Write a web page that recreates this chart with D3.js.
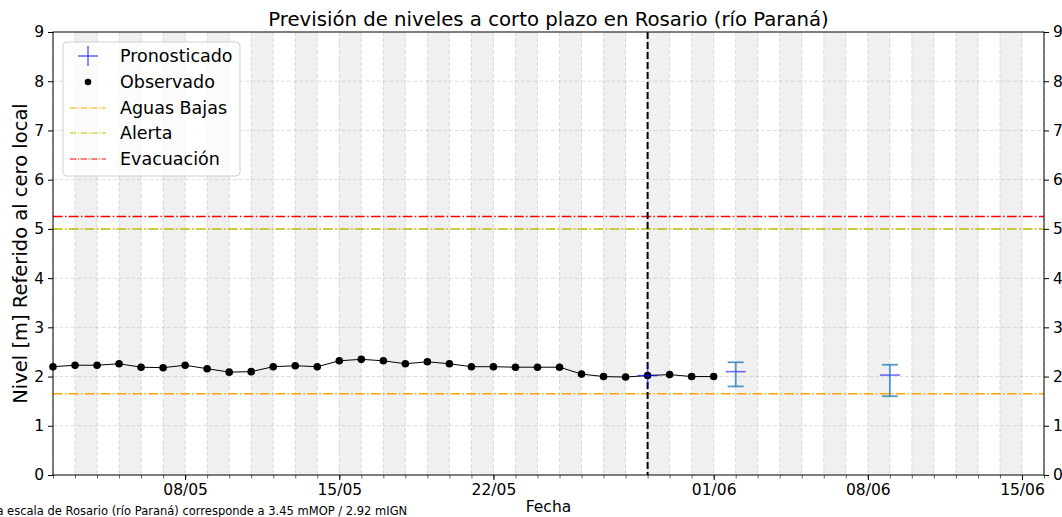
<!DOCTYPE html>
<html><head><meta charset="utf-8">
<script src="https://cdn.jsdelivr.net/npm/d3@7"></script>
<style>body{margin:0;background:#fff}svg{display:block;font-family:"DejaVu Sans",sans-serif}</style>
</head><body><svg id="c" width="1062" height="517"></svg>
<script>
// ---- data ----
const obsDates = ["2024-05-02","2024-05-03","2024-05-04","2024-05-05","2024-05-06","2024-05-07","2024-05-08","2024-05-09","2024-05-10","2024-05-11","2024-05-12","2024-05-13","2024-05-14","2024-05-15","2024-05-16","2024-05-17","2024-05-18","2024-05-19","2024-05-20","2024-05-21","2024-05-22","2024-05-23","2024-05-24","2024-05-25","2024-05-26","2024-05-27","2024-05-28","2024-05-29","2024-05-30","2024-05-31","2024-06-01"];
const obsValues = [2.20,2.23,2.23,2.26,2.19,2.18,2.23,2.16,2.09,2.10,2.20,2.22,2.20,2.32,2.35,2.32,2.26,2.30,2.26,2.20,2.20,2.19,2.19,2.19,2.05,2.00,1.99,2.02,2.04,2.00,2.00];
const fcDates = ["2024-05-29","2024-06-02","2024-06-09"];
const fcValues = [2.02,2.10,2.03];
const fcLow = [2.02,1.80,1.60];
const fcHigh = [2.02,2.29,2.24];
const thresholds = [
  {name:"Aguas Bajas", value:1.65, color:"#ffa500"},
  {name:"Alerta", value:5.0, color:"#bfbf00"},
  {name:"Evacuación", value:5.25, color:"#ff0000"}
];
const yTicks = [0,1,2,3,4,5,6,7,8,9];
const xTickLabels = ["08/05","15/05","22/05","01/06","08/06","15/06"];
const xTickDates = ["2024-05-08","2024-05-15","2024-05-22","2024-06-01","2024-06-08","2024-06-15"];
const nowDate = "2024-05-29";
const domainStart = "2024-05-02", domainEnd = "2024-06-16";
const title = "Previsión de niveles a corto plazo en Rosario (río Paraná)";
const yLabel = "Nivel [m] Referido al cero local";
const xLabel = "Fecha";
const note = "La escala de Rosario (río Paraná) corresponde a 3.45 mMOP / 2.92 mIGN";

// ---- chart ----
const W=1062,H=517, m={l:53,r:18,t:32,b:42};
const svg=d3.select("#c");
const P=d=>d3.utcParse("%Y-%m-%d")(d);
const x=d3.scaleUtc().domain([P(domainStart),P(domainEnd)]).range([m.l,W-m.r]);
const y=d3.scaleLinear().domain([0,9]).range([H-m.b,m.t]);
const days=d3.utcDay.range(P(domainStart),d3.utcDay.offset(P(domainEnd),1));

// shaded alternating days
const shade=svg.append("g");
days.forEach((d,i)=>{ if(i%2===1 && d<P(domainEnd)){
  shade.append("rect").attr("x",x(d)).attr("y",m.t).attr("width",x(d3.utcDay.offset(d,1))-x(d)).attr("height",H-m.b-m.t).attr("fill","#f0f0f0");
}});
// grid
const grid=svg.append("g").attr("stroke","#b0b0b0").attr("stroke-opacity",0.5).attr("stroke-dasharray","4,2").attr("stroke-width",0.8);
days.forEach(d=>grid.append("line").attr("x1",x(d)).attr("x2",x(d)).attr("y1",m.t).attr("y2",H-m.b));
yTicks.slice(1,-1).forEach(v=>grid.append("line").attr("x1",m.l).attr("x2",W-m.r).attr("y1",y(v)).attr("y2",y(v)));

// thresholds
thresholds.forEach(t=>svg.append("line").attr("x1",m.l).attr("x2",W-m.r).attr("y1",y(t.value)).attr("y2",y(t.value))
  .attr("stroke",t.color).attr("stroke-width",1.5).attr("stroke-dasharray","9.6,2.4,1.5,2.4"));

// now line
svg.append("line").attr("x1",x(P(nowDate))).attr("x2",x(P(nowDate))).attr("y1",m.t).attr("y2",H-m.b)
  .attr("stroke","#000").attr("stroke-width",2).attr("stroke-dasharray","7,3");

// observed
const obs=obsDates.map((d,i)=>({d:P(d),v:obsValues[i]}));
svg.append("path").datum(obs).attr("fill","none").attr("stroke","#000").attr("stroke-width",1)
  .attr("d",d3.line().x(o=>x(o.d)).y(o=>y(o.v)));
svg.append("g").selectAll("circle").data(obs).join("circle").attr("cx",o=>x(o.d)).attr("cy",o=>y(o.v)).attr("r",3.8).attr("fill","#000");

// forecast
const fc=fcDates.map((d,i)=>({d:P(d),v:fcValues[i],lo:fcLow[i],hi:fcHigh[i]}));
const fg=svg.append("g");
fc.forEach(f=>{
  const cx=x(f.d);
  fg.append("line").attr("x1",cx-10).attr("x2",cx+10).attr("y1",y(f.v)).attr("y2",y(f.v)).attr("stroke","#0000ff").attr("stroke-opacity",0.6).attr("stroke-width",1.5);
  fg.append("line").attr("x1",cx).attr("x2",cx).attr("y1",y(f.v)-10).attr("y2",y(f.v)+10).attr("stroke","#0000ff").attr("stroke-opacity",f.hi>f.lo?0:0.6).attr("stroke-width",1.5);
  if(f.hi>f.lo){
    const e=fg.append("g").attr("stroke","#1f77b4").attr("stroke-opacity",0.75).attr("stroke-width",1.8);
    e.append("line").attr("x1",cx).attr("x2",cx).attr("y1",y(f.hi)).attr("y2",y(f.lo));
    e.append("line").attr("x1",cx-8).attr("x2",cx+8).attr("y1",y(f.hi)).attr("y2",y(f.hi));
    e.append("line").attr("x1",cx-8).attr("x2",cx+8).attr("y1",y(f.lo)).attr("y2",y(f.lo));
  }
});

// axes
const fs="15.5px";
const xMinor=d3.axisBottom(x).tickValues(days).tickSize(3.5).tickFormat("");
svg.append("g").attr("transform",`translate(0,${H-m.b})`).call(xMinor).call(g=>g.select(".domain").remove()).selectAll("line").attr("stroke","#000").attr("stroke-width",0.6);
const xMajor=d3.axisBottom(x).tickValues(xTickDates.map(P)).tickSize(5).tickPadding(4).tickFormat((d,i)=>xTickLabels[i]);
svg.append("g").attr("transform",`translate(0,${H-m.b})`).call(xMajor).call(g=>g.select(".domain").remove())
  .call(g=>g.selectAll("text").attr("font-size",fs).attr("font-family","DejaVu Sans").attr("fill","#000"));
const yl=d3.axisLeft(y).tickValues(yTicks).tickSize(5).tickPadding(4).tickFormat(d3.format("d"));
svg.append("g").attr("transform",`translate(${m.l},0)`).call(yl).call(g=>g.select(".domain").remove())
  .call(g=>g.selectAll("text").attr("font-size",fs).attr("font-family","DejaVu Sans").attr("fill","#000"));
const yr=d3.axisRight(y).tickValues(yTicks).tickSize(5).tickPadding(4).tickFormat(d3.format("d"));
svg.append("g").attr("transform",`translate(${W-m.r},0)`).call(yr).call(g=>g.select(".domain").remove())
  .call(g=>g.selectAll("text").attr("font-size",fs).attr("font-family","DejaVu Sans").attr("fill","#000"));
svg.append("rect").attr("x",m.l).attr("y",m.t).attr("width",W-m.r-m.l).attr("height",H-m.b-m.t).attr("fill","none").attr("stroke","#000").attr("stroke-width",1);

// texts
svg.append("text").attr("x",(m.l+W-m.r)/2).attr("y",26).attr("text-anchor","middle").attr("font-size","19.7px").text(title);
svg.append("text").attr("transform",`translate(27,${(m.t+H-m.b)/2}) rotate(-90)`).attr("text-anchor","middle").attr("font-size","19.5px").text(yLabel);
svg.append("text").attr("x",(m.l+W-m.r)/2).attr("y",512).attr("text-anchor","middle").attr("font-size","15.5px").text(xLabel);
svg.append("text").attr("x",-10).attr("y",515).attr("font-size","11.5px").text(note);

// legend
const lg=svg.append("g");
lg.append("rect").attr("x",63).attr("y",42).attr("width",177).attr("height",134).attr("rx",4).attr("fill","#fff").attr("fill-opacity",0.8).attr("stroke","#d0d0d0");
const ly=[56,82,108,133,159];
lg.append("line").attr("x1",78).attr("x2",98).attr("y1",ly[0]).attr("y2",ly[0]).attr("stroke","#0000ff").attr("stroke-opacity",0.6).attr("stroke-width",1.5);
lg.append("line").attr("x1",88).attr("x2",88).attr("y1",ly[0]-10).attr("y2",ly[0]+10).attr("stroke","#0000ff").attr("stroke-opacity",0.6).attr("stroke-width",1.5);
lg.append("circle").attr("cx",88).attr("cy",ly[1]).attr("r",3.3).attr("fill","#000");
thresholds.forEach((t,i)=>lg.append("line").attr("x1",70).attr("x2",106).attr("y1",ly[i+2]).attr("y2",ly[i+2]).attr("stroke",t.color).attr("stroke-width",1.2).attr("stroke-dasharray","6.4,1.6,1,1.6"));
const names=["Pronosticado","Observado"].concat(thresholds.map(t=>t.name));
names.forEach((n,i)=>lg.append("text").attr("x",120).attr("y",ly[i]).attr("dy","0.36em").attr("font-size","17.5px").text(n));
</script></body></html>
